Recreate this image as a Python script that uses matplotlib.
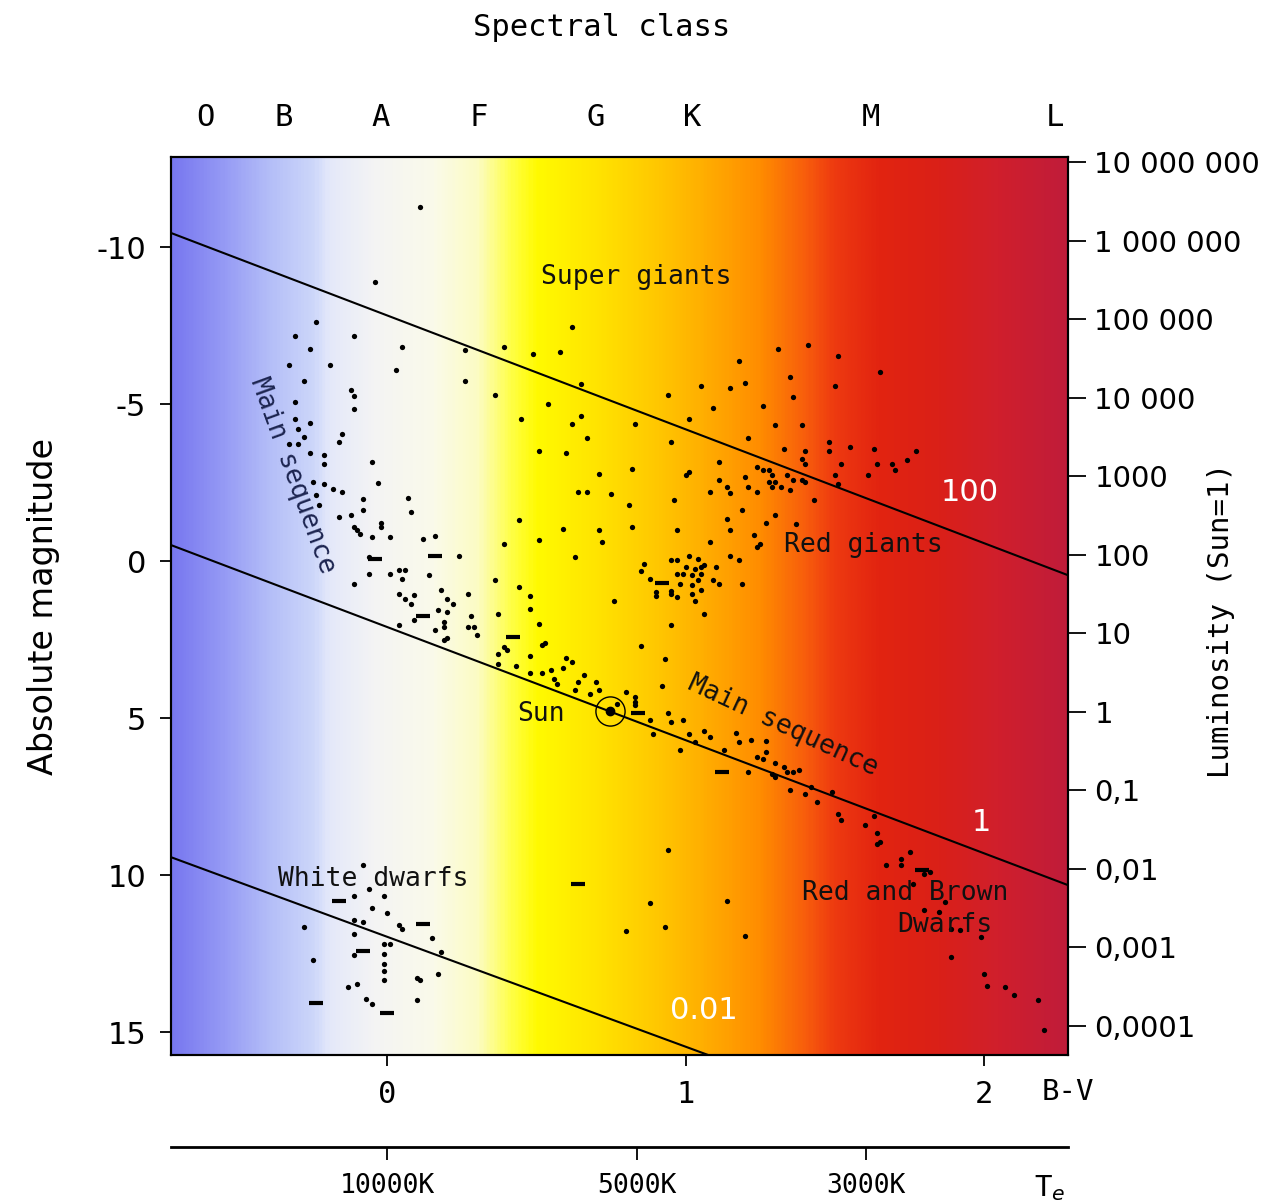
import numpy as np
import matplotlib

matplotlib.use("Agg")
import matplotlib.pyplot as plt
from matplotlib.colors import LinearSegmentedColormap

# axis ranges (B-V colour index, absolute magnitude)
BV_MIN, BV_MAX = -0.724, 2.281
MAG_TOP, MAG_BOTTOM = -12.87, 15.73
M_SUN = 4.8

# stars drawn as dots: B-V, absolute magnitude
star_bv = [
    0.11, -0.04, -0.24, -0.31, -0.11, -0.26, 0.05, 0.26, -0.33, -0.19, 0.03, 0.26, -0.28, -0.12,
    -0.11, -0.11, -0.31, -0.26, -0.31, -0.30, -0.15, -0.16, -0.28, -0.33, -0.30, -0.26, -0.21,
    -0.05, -0.21, -0.25, -0.21, -0.18, -0.15, -0.03, -0.24, -0.23, -0.08, -0.08, 0.07, 0.08,
    -0.16, -0.12, -0.11, -0.10, -0.09, -0.02, -0.02, -0.05, 0.01, 0.12, 0.16, -0.06, 0.24,
    -0.06, -0.11, 0.01, 0.04, 0.06, 0.05, 0.14, 0.04, 0.06, 0.08, 0.18, 0.20, 0.22, 0.27, 0.09,
    0.17, 0.20, 0.09, 0.19, 0.19, 0.16, 0.27, 0.04, 0.19, 0.20, 0.28, 0.29, 0.30,
    1.11, 0.82, 0.71, 1.00, 1.01, 1.11, 1.20, 1.21, 1.14, 1.15, 1.24, 1.26, 1.24, 1.28, 0.64,
    0.67, 0.75, 1.08, 0.96, 0.81, 1.19, 0.44, 0.59, 0.71, 0.82, 0.97, 1.15, 1.14, 1.27, 0.39,
    0.51, 0.72, 1.08, 1.23, 1.24, 1.25, 0.63, 1.15, 1.18,
    0.86, 0.85, 0.95, 0.97, 1.01, 1.04, 1.06, 1.10, 0.88, 0.97, 0.99, 1.02, 1.05, 1.00, 1.03,
    1.05, 0.98, 1.02, 1.04, 1.09, 1.11, 1.19, 0.90, 0.90, 0.95, 0.95, 0.97, 1.02, 1.05, 1.03,
    0.76,
    0.36, 0.44, 0.48, 0.48, 0.37, 1.06, 0.51, 0.95, 0.39, 0.40, 0.52, 0.53, 0.85, 0.48, 0.37,
    0.37, 0.43, 0.60, 0.62, 0.93, 0.52, 0.55, 0.59, 0.48, 0.56, 0.57, 0.64, 0.66, 0.63, 0.68,
    0.70, 0.71, 0.92, 0.80, 0.83, 0.83, 0.83, 0.77, 0.88, 0.94, 0.95, 0.99, 0.89, 1.01, 1.06,
    1.08, 1.13, 1.17, 1.18, 1.22, 1.24, 1.27, 1.27, 1.03, 0.98,
    0.62, 0.39, 0.49, 0.58, 0.65, 0.36, 0.54, 0.45, 0.65, 0.62, 0.67, 0.51, 0.60, 0.83, 0.94,
    0.95, 1.01, 1.05, 1.09, 1.15, 1.20, 1.18, 1.21, 1.26,
    1.31, 1.41, 1.51, 1.65, 1.35, 1.50, 1.36, 1.30, 1.39, 1.48, 1.33, 1.40, 1.48, 1.55, 1.63,
    1.77,
    1.39, 1.40, 1.52, 1.64, 1.69, 1.70, 1.74, 1.61, 1.28, 1.29, 1.30, 1.29, 1.32, 1.34, 1.36,
    1.39, 1.40, 1.50, 1.51, 1.35, 1.43, 1.30, 1.37,
    -0.08, -0.06, -0.11, -0.01, -0.05, 0.00, -0.11, -0.08, 0.04, 0.05, -0.28, -0.11, 0.15,
    0.01, -0.01, -0.01, -0.11, 0.18, -0.25, -0.01, -0.01, -0.01, 0.10, 0.11, 0.17, -0.10,
    -0.13, -0.07, -0.05, 0.10,
    0.94, 0.88, 1.14, 0.80, 0.93, 1.20, 1.21,
    1.29, 1.30, 1.34, 1.36, 1.38, 1.35, 1.40, 1.44, 1.49, 1.42, 1.51, 1.52, 1.60, 1.63, 1.64,
    1.64, 1.65, 1.72, 1.72, 1.67, 1.75, 1.82, 1.80, 1.76, 1.87, 1.80, 1.85, 1.89, 1.92, 1.99,
    1.89, 2.00, 2.01, 2.07, 2.10, 2.18, 2.20, 1.26, 1.30, 1.33,
]
star_mag = [
    -11.27, -8.89, -7.61, -7.17, -7.17, -6.75, -6.82, -6.72, -6.24, -6.24, -6.08, -5.73, -5.73,
    -5.45, -5.25, -4.84, -5.06, -4.39, -4.52, -4.20, -4.04, -3.79, -3.95, -3.73, -3.73, -3.44,
    -3.38,
    -3.15, -3.09, -2.52, -2.45, -2.29, -2.20, -2.48, -2.10, -1.78, -1.97, -1.62, -2.00, -1.56,
    -1.40, -1.46, -1.08, -0.99, -0.86, -1.08, -1.20, -0.76, -0.76, -0.70, -0.80, -0.13, -0.16,
    0.41, 0.73, 0.41, 0.29, 0.29, 0.57, 0.45, 1.05, 1.20, 1.37, 0.92, 1.21, 1.37, 1.05, 1.08,
    1.56, 1.62, 1.88, 1.94, 2.10, 2.20, 2.10, 2.04, 2.52, 2.45, 1.75, 2.10, 2.35,
    -3.15, -2.93, -2.77, -2.74, -2.85, -2.58, -2.68, -2.36, -2.36, -2.17, -2.99, -2.90, -2.20,
    -2.52, -2.20, -2.20, -2.13, -2.20, -1.94, -1.78, -1.62, -1.31, -1.02, -0.99, -1.08, -0.99,
    -0.99, -1.34, -1.21, -0.54, -0.67, -0.60, -0.60, -0.83, -0.45, -0.54, -0.13, -0.16, -0.03,
    0.10, 0.32, -0.03, -0.03, -0.16, -0.06, 0.13, 0.19, 0.57, 0.41, 0.41, 0.45, 0.41, 0.19,
    0.25, 0.19, 0.73, 0.76, 0.60, 0.60, 0.73, 0.73, 0.99, 1.10, 0.95, 1.05, 1.15, 1.05, 0.92,
    1.27, 1.27,
    0.60, 0.83, 1.11, 1.53, 1.69, 1.69, 2.00, 2.04, 2.74, 2.83, 2.68, 2.62, 2.71, 3.03, 2.96,
    3.28, 3.34, 3.10, 3.20, 3.12, 3.57, 3.47, 3.41, 3.57, 3.76, 3.92, 3.85, 3.63, 4.11, 4.24,
    3.85, 4.11, 3.98, 4.17, 4.33, 4.50, 4.59, 4.55, 5.06, 4.84, 5.13, 5.06, 5.51, 5.51, 5.41,
    5.60, 6.02, 5.48, 5.76, 5.70, 6.24, 6.08, 5.73, 5.76, 6.02,
    -7.45, -6.82, -6.59, -6.66, -5.64, -5.29, -5.00, -4.52, -4.62, -4.36, -3.92, -3.50, -3.44,
    -4.36, -5.29, -3.79, -4.52, -5.57, -4.87, -5.51, -5.67, -6.37, -3.92, -4.94,
    -6.75, -6.88, -6.53, -6.02, -5.86, -5.57, -5.22, -4.33, -4.33, -3.79, -3.57, -3.50, -3.50,
    -3.63, -3.57, -3.50,
    -3.25, -3.09, -3.09, -3.09, -3.09, -2.90, -3.22, -2.74, -2.90, -2.74, -2.52, -2.36, -2.36,
    -2.74, -2.58, -2.58, -2.52, -2.74, -2.45, -2.26, -1.94, -1.46, -1.18,
    9.68, 10.45, 10.67, 10.67, 11.05, 11.21, 11.43, 11.50, 11.60, 11.72, 11.66, 11.88, 12.00,
    12.20, 12.20, 12.50, 12.55, 12.45, 12.71, 12.83, 13.06, 13.34, 13.28, 13.35, 13.15, 13.47,
    13.57, 13.95, 14.11, 13.98,
    9.20, 10.89, 10.83, 11.78, 11.66, 11.94, 6.72,
    6.78, 6.88, 6.72, 6.72, 6.66, 7.29, 7.42, 7.68, 7.36, 7.20, 8.06, 8.25, 8.41, 8.12, 8.66,
    9.01, 8.95, 9.49, 9.68, 9.68, 9.27, 9.90, 9.97, 10.29, 10.86, 11.11, 11.18, 11.72, 11.75,
    11.97, 12.61, 13.15, 13.54, 13.57, 13.82, 13.98, 14.94, 6.30, 6.43, 6.56,
]

# stars drawn as short dashes
dash_bv = [-0.04, 0.16, 0.12, 0.42, 0.84, 0.92, -0.16, 0.12, -0.08, -0.24, 0.00, 1.12, 0.64, 1.79]
dash_mag = [-0.06, -0.16, 1.75, 2.42, 4.84, 0.70, 10.83, 11.56, 12.42, 14.08, 14.39, 6.72, 10.29, 9.84]

sun_bv, sun_mag = 0.747, 4.78

# lines of constant radius (Sun=1): magnitude at left and right edge
radius_labels = ["100", "1", "0.01"]
radius_mag_left = [-10.45, -0.51, 9.43]
radius_mag_right = [0.45, 10.32, 19.95]
radius_label_bv = [1.95, 1.99, 1.06]
radius_label_mag = [-2.17, 8.31, 14.3]

mag_ticks = [-10, -5, 0, 5, 10, 15]
bv_ticks = [0, 1, 2]
spectral_classes = ["O", "B", "A", "F", "G", "K", "M", "L"]
spectral_bv = [-0.608, -0.345, -0.023, 0.305, 0.697, 1.022, 1.621, 2.238]
temp_labels = ["10000K", "5000K", "3000K"]
temp_bv = [0.0, 0.837, 1.605]
lum_exponents = [7, 6, 5, 4, 3, 2, 1, 0, -1, -2, -3, -4]
lum_labels = ["10 000 000", "1 000 000", "100 000", "10 000", "1000", "100", "10", "1",
              "0,1", "0,01", "0,001", "0,0001"]

# background colour stops along B-V
grad_bv = [-0.724, -0.55, -0.4, -0.25, -0.2, -0.05, 0.15, 0.3, 0.42, 0.5, 0.7, 0.9, 1.05,
           1.25, 1.4, 1.5, 1.65, 1.85, 2.05, 2.281]
grad_colors = ["#7878f0", "#969bf5", "#b4bef8", "#cdd7fa", "#e4e8fa", "#f4f4f4", "#fafaea",
               "#fcfcc4", "#ffff40", "#fffa00", "#ffe400", "#ffc800", "#ffb000", "#ff8c00",
               "#f85e0c", "#ee3a10", "#e22410", "#da2018", "#d01f2c", "#c01c3a"]

MONO = "DejaVu Sans Mono"
SANS = "DejaVu Sans"

fig = plt.figure(figsize=(12.87, 12.03), dpi=100)
ax = fig.add_axes([0.1329, 0.1230, 0.6970, 0.7465])

span = BV_MAX - BV_MIN
cmap = LinearSegmentedColormap.from_list(
    "hr", [((b - BV_MIN) / span, c) for b, c in zip(grad_bv, grad_colors)]
)
ax.imshow(np.linspace(0, 1, 600).reshape(1, -1), extent=[BV_MIN, BV_MAX, MAG_BOTTOM, MAG_TOP],
          aspect="auto", cmap=cmap, zorder=0, interpolation="bilinear")

for lab, ml, mr, lx, ly in zip(radius_labels, radius_mag_left, radius_mag_right,
                               radius_label_bv, radius_label_mag):
    ax.plot([BV_MIN, BV_MAX], [ml, mr], color="black", lw=1.5, zorder=2)
    ax.text(lx, ly, lab, color="white", fontsize=22, family=SANS, ha="center", va="center")

ax.plot(star_bv, star_mag, "o", color="black", ms=3.8, mew=0, zorder=3)
ax.plot(dash_bv, dash_mag, "_", color="black", ms=10, mew=3, zorder=3)
ax.plot(sun_bv, sun_mag, "o", ms=21, mfc="none", mec="black", mew=1, zorder=3)
ax.plot(sun_bv, sun_mag, "o", color="black", ms=6, zorder=3)

ax.set_xlim(BV_MIN, BV_MAX)
ax.set_ylim(MAG_BOTTOM, MAG_TOP)

txt = dict(family=MONO, fontsize=19, color="#111111", ha="center", va="center")
ax.text(0.834, -9.04, "Super giants", **txt)
ax.text(1.595, -0.51, "Red giants", **txt)
ax.text(0.516, 4.87, "Sun", **txt)
ax.text(-0.047, 10.13, "White dwarfs", **txt)
ax.text(1.735, 10.57, "Red and Brown", **txt)
ax.text(1.869, 11.59, "Dwarfs", **txt)
ax.text(1.327, 5.25, "Main sequence", rotation=-25, **txt)
ax.text(-0.318, -2.74, "Main sequence", rotation=-70, family=MONO, fontsize=19,
        color="#1c2450", ha="center", va="center")

for s in ax.spines.values():
    s.set_linewidth(1.5)

ax.set_yticks(mag_ticks)
ax.set_yticklabels([str(m) for m in mag_ticks], family=SANS, fontsize=22)
ax.set_xticks(bv_ticks)
ax.set_xticklabels([str(b) for b in bv_ticks], family=MONO, fontsize=22)
ax.tick_params(axis="both", direction="out", length=8, width=1.3, pad=10)
ax.set_ylabel("Absolute magnitude", family=SANS, fontsize=24, labelpad=26)
ax.text(1.0, -0.026, "B-V", transform=ax.transAxes, family=MONO, fontsize=21,
        ha="center", va="top")

top = ax.secondary_xaxis("top")
top.set_xticks(spectral_bv)
top.set_xticklabels(spectral_classes, family=MONO, fontsize=22)
top.tick_params(length=0, pad=18)
top.spines["top"].set_visible(False)
fig.text(602 / 1287, 1 - 27 / 1203, "Spectral class", family=MONO, fontsize=22,
         ha="center", va="center")

temp = ax.secondary_xaxis(-0.1025)
temp.set_xticks(temp_bv)
temp.set_xticklabels(temp_labels, family=MONO, fontsize=19)
temp.tick_params(direction="out", length=9, width=1.3, pad=10)
temp.spines["bottom"].set_linewidth(2)
ax.text(0.98, -0.132, "T$_e$", transform=ax.transAxes, family=MONO, fontsize=21,
        ha="center", va="top")

right = ax.twinx()
right.set_ylim(MAG_BOTTOM, MAG_TOP)
right.set_yticks([M_SUN - 2.5 * e for e in lum_exponents])
right.set_yticklabels(lum_labels, family=SANS, fontsize=21)
right.tick_params(direction="out", length=13, width=1.3, pad=6)
right.set_ylabel("Luminosity (Sun=1)", family=MONO, fontsize=21)
right.yaxis.set_label_coords(1.155, 0.484)
for s in right.spines.values():
    s.set_linewidth(1.5)

fig.savefig("out.png", dpi=100, facecolor="white")
